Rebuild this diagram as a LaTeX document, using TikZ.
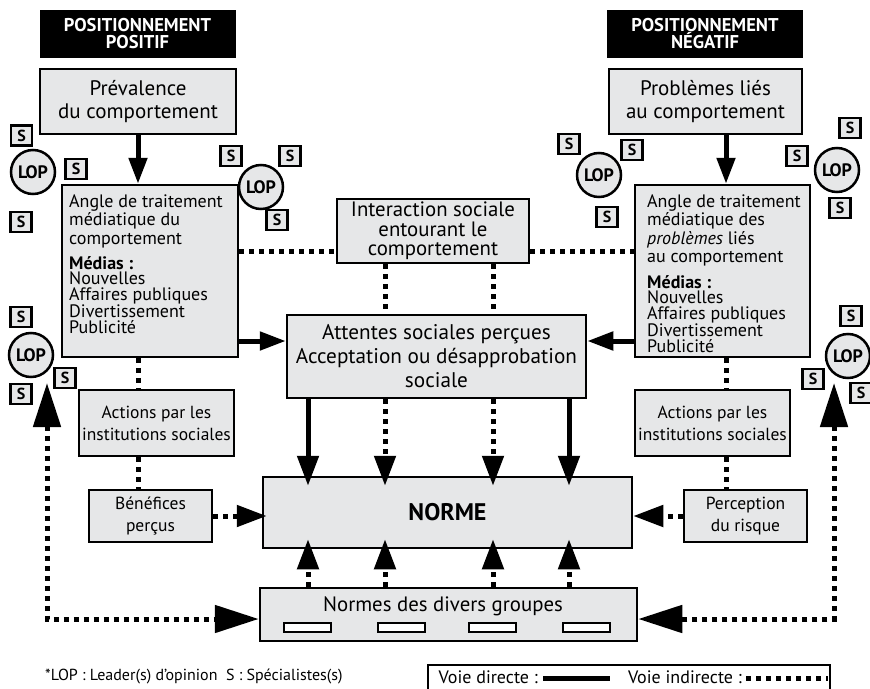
\documentclass[tikz,border=0pt]{standalone}
\usepackage{fontspec}
\setmainfont{PT Sans}
\usetikzlibrary{arrows.meta}
\definecolor{boxgray}{HTML}{E6E7E8}
\begin{document}
\begin{tikzpicture}[x=1pt,y=-1pt,
  box/.style={draw=black, line width=2.5pt, fill=boxgray, inner sep=0pt, align=center},
  header/.style={fill=black, text=white, inner sep=0pt, align=center,
    minimum width=196pt, minimum height=48pt, font=\bfseries\fontsize{18.5}{17}\selectfont},
  sbox/.style={box, minimum width=21pt, minimum height=20pt, font=\bfseries\fontsize{16}{16}\selectfont},
  lop/.style={box, circle, minimum size=44pt, font=\bfseries\fontsize{18}{18}\selectfont},
  txt/.style={anchor=north west, inner sep=0pt, align=left},
  solidlink/.style={line width=5pt},
  dotlink/.style={line width=5pt, dash pattern=on 5pt off 5pt},
  arr/.style={-{Triangle[length=26pt,width=18pt]}},
  midarr/.style={-{Triangle[length=30pt,width=21pt]}},
  bigarr/.style={{Triangle[length=44pt,width=27pt]}-{Triangle[length=44pt,width=27pt]}},
]
\useasboundingbox (0,0) rectangle (870,688);

% guide rows and columns for the connectors
\coordinate (rowA) at (0,251);
\coordinate (rowB) at (0,341);
\coordinate (rowC) at (0,516);
\coordinate (rowD) at (0,619);
\coordinate (colL) at (138,0);
\coordinate (colR) at (726,0);
\coordinate (k1) at (308,0);
\coordinate (k2) at (385,0);
\coordinate (k3) at (493,0);
\coordinate (k4) at (569,0);
\coordinate (fbL) at (47,383);
\coordinate (fbR) at (834,383);

% headers
\node[header] (hpos) at (137.5,34) {POSITIONNEMENT\\POSITIF};
\node[header] (hneg) at (705,34) {POSITIONNEMENT\\NÉGATIF};

% top boxes
\node[box, minimum width=196pt, minimum height=65pt, font=\fontsize{21}{23}\selectfont]
  (prev) at (138,101.5) {Prévalence\\du comportement};
\node[box, minimum width=193pt, minimum height=65pt, font=\fontsize{21}{23}\selectfont]
  (prob) at (705.5,101.5) {Problèmes liés\\au comportement};

% media boxes
\node[box, minimum width=176pt, minimum height=172pt] (angL) at (150,271) {};
\node[box, minimum width=175pt, minimum height=172pt] (angR) at (722.5,271) {};
\node[txt, font=\fontsize{18}{18.5}\selectfont] (angLhead) at (69,194)
  {Angle de traitement\\médiatique du\\comportement};
\node[txt, font=\fontsize{18}{15.5}\selectfont] (angLlist) at (69,256)
  {\textbf{Médias :}\\Nouvelles\\Affaires publiques\\Divertissement\\Publicité};
\node[txt, font=\fontsize{18}{18.5}\selectfont] (angRhead) at (647,194)
  {Angle de traitement\\médiatique des\\\textit{problèmes} liés\\au comportement};
\node[txt, font=\fontsize{18}{15.5}\selectfont] (angRlist) at (647,275)
  {\textbf{Médias :}\\Nouvelles\\Affaires publiques\\Divertissement\\Publicité};

% central boxes
\node[box, minimum width=192pt, minimum height=64pt, font=\fontsize{20.8}{19.3}\selectfont]
  (inter) at (433,231) {Interaction sociale\\entourant le\\comportement};
\node[box, minimum width=299pt, minimum height=83pt, font=\fontsize{21.2}{24}\selectfont]
  (att) at (436.5,356.5) {Attentes sociales perçues\\Acceptation ou désapprobation\\sociale};

% institutions
\node[box, minimum width=155pt, minimum height=66pt, font=\fontsize{17.5}{22}\selectfont]
  (actL) at (156.5,423) {Actions par les\\institutions sociales};
\node[box, minimum width=155pt, minimum height=66pt, font=\fontsize{17.5}{22}\selectfont]
  (actR) at (712.5,423) {Actions par les\\institutions sociales};
\node[box, minimum width=123pt, minimum height=52pt, font=\fontsize{17.5}{22}\selectfont]
  (benef) at (150.5,516) {Bénéfices\\perçus};
\node[box, minimum width=123pt, minimum height=52pt, font=\fontsize{17.5}{22}\selectfont]
  (perc) at (745.5,516) {Perception\\du risque};

% norm boxes
\node[box, minimum width=369pt, minimum height=71pt, font=\bfseries\fontsize{24}{26}\selectfont]
  (norme) at (447.5,512.5) {NORME};
\node[box, minimum width=377pt, minimum height=53pt] (groupes) at (448.5,614.5) {};
\node[inner sep=0pt, font=\fontsize{20.8}{24}\selectfont] (groupestxt) at (443,606) {Normes des divers groupes};
\foreach \gx [count=\gi] in {307.5,401.5,492,586.5}
  \node[draw=black, line width=2pt, fill=white, minimum width=47pt, minimum height=9pt, inner sep=0pt]
    (grp\gi) at (\gx,627.5) {};

% opinion leaders and specialists
\foreach \px/\py [count=\pi] in {33/172, 261/187, 599/175, 837/170, 31/355, 848/356}
  \node[lop] (lop\pi) at (\px,\py) {LOP};
\foreach \px/\py [count=\pi] in {21.5/135.5, 76/169, 21/222, 231/156, 290/156, 277/220,
    569/144, 632/150, 607/217, 850/128, 797/156, 840/208,
    21/317, 65/378, 21/394, 851/316, 813/379, 861/393}
  \node[sbox] (s\pi) at (\px,\py) {S};

% direct links
\draw[solidlink, arr] (prev.south -| colL) -- (angL.north -| colL);
\draw[solidlink, arr] (prob.south -| colR) -- (angR.north -| colR);
\draw[solidlink, arr] (angL.east |- rowB) -- (att.west |- rowB);
\draw[solidlink, arr] (angR.west |- rowB) -- (att.east |- rowB);
\draw[solidlink, midarr, shorten >=-10pt] (att.south -| k1) -- (norme.north -| k1);
\draw[solidlink, midarr, shorten >=-10pt] (att.south -| k4) -- (norme.north -| k4);

% indirect links
\draw[dotlink] (angL.east |- rowA) -- (inter.west |- rowA);
\draw[dotlink] (inter.east |- rowA) -- (angR.west |- rowA);
\draw[dotlink] (inter.south -| k2) -- (att.north -| k2);
\draw[dotlink] (inter.south -| k3) -- (att.north -| k3);
\draw[dotlink, midarr, shorten >=-10pt] (att.south -| k2) -- (norme.north -| k2);
\draw[dotlink, midarr, shorten >=-10pt] (att.south -| k3) -- (norme.north -| k3);
\foreach \k in {k1,k2,k3,k4}
  \draw[dotlink, midarr, shorten >=-10pt] (groupes.north -| \k) -- (norme.south -| \k);
\draw[dotlink] (angL.south -| colL) -- (actL.north -| colL);
\draw[dotlink] (actL.south -| colL) -- (benef.north -| colL);
\draw[dotlink] (angR.south -| colR) -- (actR.north -| colR);
\draw[dotlink] (actR.south -| colR) -- (perc.north -| colR);
\draw[dotlink, midarr, shorten >=-5pt] (benef.east |- rowC) -- (norme.west |- rowC);
\draw[dotlink, midarr] (perc.west |- rowC) -- (norme.east |- rowC);

% feedback loops
\draw[dotlink, bigarr] (fbL) |- (groupes.west |- rowD);
\draw[dotlink, bigarr] (fbR) |- (groupes.east |- rowD);

% footnote
\node[anchor=west, inner sep=0pt, font=\fontsize{16}{18}\selectfont] (note) at (45,676)
  {*LOP : Leader(s) d’opinion \ S : Spécialistes(s)};

% legend
\node[draw=black, line width=2pt, fill=white, minimum width=402pt, minimum height=50pt, inner sep=0pt]
  (legend) at (629,690) {};
\coordinate (vdStart) at (543,678);
\coordinate (vdEnd) at (610,678);
\coordinate (viStart) at (746,678);
\coordinate (viEnd) at (828,678);
\node[anchor=east, inner sep=0pt, font=\fontsize{18}{20}\selectfont] (vd) at (538,677) {Voie directe :};
\node[anchor=east, inner sep=0pt, font=\fontsize{18}{20}\selectfont] (vi) at (742,677) {Voie indirecte :};
\draw[solidlink] (vdStart) -- (vdEnd);
\draw[dotlink] (viStart) -- (viEnd);
\end{tikzpicture}
\end{document}
